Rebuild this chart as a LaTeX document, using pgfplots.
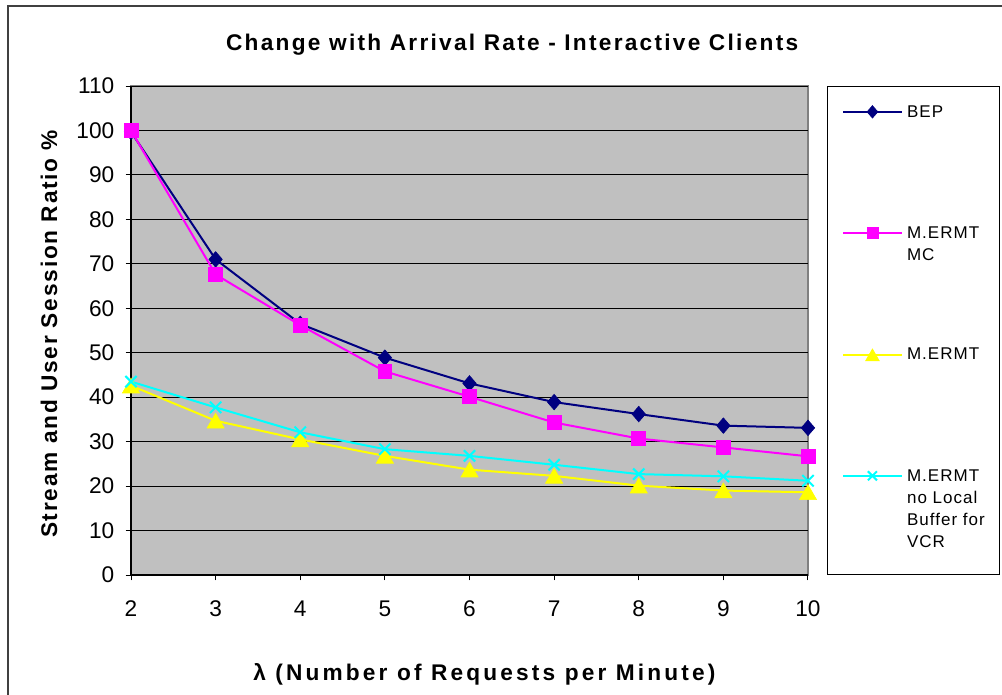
\documentclass[border=0pt]{standalone}
\usepackage{fontspec}
\setmainfont{Liberation Sans}
\newfontfamily\spacedfont[LetterSpace=8]{Liberation Sans}
\newfontfamily\titlefont[LetterSpace=10]{Liberation Sans}
\newfontfamily\xlabfont[LetterSpace=14]{Liberation Sans}
\newfontfamily\legfont[LetterSpace=6]{Liberation Sans}
\usepackage{pgfplots}
\usepackage{pgfplotstable}
\pgfplotsset{compat=1.18}

\definecolor{plotbg}{RGB}{192,192,192}
\definecolor{bepblue}{RGB}{0,0,128}
\definecolor{mcpink}{RGB}{255,0,255}
\definecolor{ermtyellow}{RGB}{255,255,0}
\definecolor{vcrcyan}{RGB}{0,255,255}
\definecolor{framegray}{RGB}{128,128,128}

% stream and user session ratio (%) per arrival rate
\pgfplotstableread{
lambda bep   mc    ermt  vcr
2      99.7  100.0 42.6  43.5
3      71.0  67.6  34.7  37.7
4      56.5  56.2  30.5  32.1
5      48.9  45.8  26.8  28.3
6      43.1  40.1  23.7  26.8
7      38.9  34.3  22.3  24.8
8      36.2  30.7  20.1  22.7
9      33.6  28.7  19.0  22.2
10     33.1  26.7  18.6  21.2
}\ratiotable

% legend text: top aligned box of fixed height, so rows keep equal pitch
\newcommand{\legtext}[2]{\parbox[t][#1][t]{58pt}{\fontsize{12.75}{16.5}\selectfont\legfont\strut #2}}

\begin{document}
\begin{tikzpicture}
\path[use as bounding box] (0,0) rectangle (751.5pt,520.5pt);
\draw[line width=1.5pt, color=black!75] (6pt,-5pt) -- (6pt,516pt) -- (760pt,516pt);
\begin{axis}[
    at={(98.25pt,89.25pt)}, anchor=south west,
    scale only axis, width=507.75pt, height=366.75pt,
    xmin=2, xmax=10, ymin=0, ymax=110,
    xtick={2,3,...,10}, ytick={0,10,...,110},
    axis x line*=bottom, axis y line*=left,
    axis line style={black, line width=1.2pt, -},
    axis background/.style={fill=plotbg, draw=framegray, line width=1.5pt},
    ymajorgrids, grid style={black, line width=0.75pt},
    tick align=outside, major tick length=4pt,
    tick style={black, line width=0.75pt},
    /pgf/number format/assume math mode=true,
    tick label style={font=\fontsize{17}{20}\selectfont},
    yticklabel style={xshift=-5pt},
    xticklabel style={yshift=-12pt},
    clip=false,
    title={Change with Arrival Rate - Interactive Clients},
    title style={at={(0.563,1.057)}, anchor=base,
        font=\fontsize{17}{20}\selectfont\titlefont\bfseries},
    xlabel={λ (Number of Requests per Minute)},
    every axis x label/.style={at={(rel axis cs:0.522,-0.204)}, anchor=center,
        font=\fontsize{17}{20}\selectfont\xlabfont\bfseries},
    ylabel={Stream and User Session Ratio \%},
    every axis y label/.style={at={(rel axis cs:-0.121,0.493)}, anchor=center, rotate=90,
        font=\fontsize{17}{20}\selectfont\spacedfont\bfseries},
    legend image code/.code={
        \draw[mark repeat=2, mark phase=2, #1, every mark/.append style={scale=0.8}]
            plot coordinates {(0pt,4pt) (22pt,4pt) (44pt,4pt)};
    },
    legend style={at={(1.028,1)}, anchor=north west,
        draw=black, line width=0.75pt, fill=white,
        inner xsep=11pt, inner ysep=11.45pt,
        row sep=0pt, column sep=3.2pt,
        nodes={inner sep=0pt, text depth=},
        cells={anchor=base west}},
]
\addplot[color=bepblue, line width=1.5pt, mark=diamond*, mark size=5.8pt,
    mark options={solid, fill=bepblue, line width=0.5pt, xscale=1.15}]
    table[x=lambda, y=bep]{\ratiotable};
\addlegendentry{\legtext{91pt}{BEP}}
\addplot[color=mcpink, line width=1.5pt, mark=square*, mark size=5.2pt,
    mark options={solid, fill=mcpink, line width=0.5pt}]
    table[x=lambda, y=mc]{\ratiotable};
\addlegendentry{\legtext{91pt}{M.ERMT\\MC}}
\addplot[color=ermtyellow, line width=1.5pt, mark=triangle*, mark size=7.4pt,
    mark options={solid, fill=ermtyellow, line width=0.5pt, yshift=-1.8pt}]
    table[x=lambda, y=ermt]{\ratiotable};
\addlegendentry{\legtext{91pt}{M.ERMT}}
\addplot[color=vcrcyan, line width=1.5pt, mark=x, mark size=6pt,
    mark options={solid, line width=1.5pt}]
    table[x=lambda, y=vcr]{\ratiotable};
\addlegendentry{\legtext{70pt}{M.ERMT\\no Local\\\mbox{Buffer for}\\VCR}}
\end{axis}
\end{tikzpicture}
\end{document}
